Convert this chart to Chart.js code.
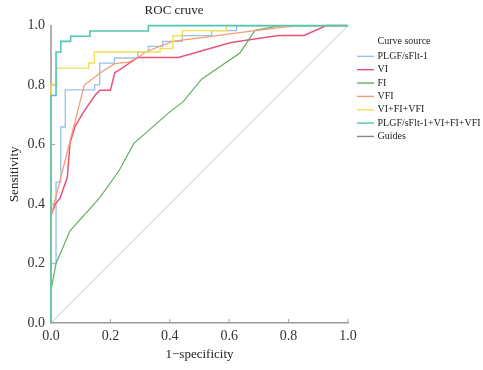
<!DOCTYPE html>
<html>
<head>
<meta charset="utf-8">
<script src="https://cdn.jsdelivr.net/npm/chart.js@4.4.1/dist/chart.umd.min.js"></script>
<style>
  html, body { margin: 0; padding: 0; background: #fff; }
  #wrap { width: 483px; height: 370px; }
</style>
</head>
<body>
<div id="wrap"><canvas id="roc" width="483" height="370"></canvas></div>
<script>
// series (x = 1-specificity, y = sensitivity)
const seriesNames = ["PLGF/sFlt-1", "VI", "FI", "VFI", "VI+FI+VFI", "PLGF/sFlt-1+VI+FI+VFI", "Guides"];

const plgfX = [0, 0, 0.017, 0.017, 0.033, 0.033, 0.048, 0.048, 0.147, 0.147, 0.164, 0.164, 0.214, 0.214, 0.292, 0.292, 0.328, 0.328, 0.376, 0.376, 0.442, 0.442, 0.541, 0.541, 0.625, 0.625, 1];
const plgfY = [0, 0.2, 0.2, 0.474, 0.474, 0.659, 0.659, 0.784, 0.784, 0.801, 0.801, 0.874, 0.874, 0.891, 0.891, 0.911, 0.911, 0.93, 0.93, 0.947, 0.947, 0.966, 0.966, 0.983, 0.983, 1, 1];

const viX = [0, 0, 0.015, 0.03, 0.055, 0.064, 0.081, 0.11, 0.15, 0.165, 0.2, 0.215, 0.232, 0.292, 0.429, 0.603, 0.64, 0.765, 0.852, 0.928, 1];
const viY = [0, 0.362, 0.40, 0.419, 0.49, 0.605, 0.661, 0.71, 0.768, 0.783, 0.783, 0.842, 0.852, 0.893, 0.893, 0.942, 0.948, 0.967, 0.967, 1, 1];

const fiX = [0, 0, 0.017, 0.064, 0.163, 0.229, 0.279, 0.40, 0.446, 0.507, 0.636, 0.659, 0.687, 0.771, 1];
const fiY = [0, 0.11, 0.2, 0.31, 0.42, 0.512, 0.604, 0.71, 0.745, 0.82, 0.908, 0.942, 0.984, 1, 1];

const vfiX = [0, 0, 0.112, 0.176, 0.215, 0.26, 0.29, 0.322, 0.41, 0.693, 0.83, 1];
const vfiY = [0, 0.36, 0.80, 0.848, 0.872, 0.877, 0.891, 0.913, 0.947, 0.984, 1, 1];

const comboX = [0, 0, 0.018, 0.018, 0.127, 0.127, 0.146, 0.146, 0.367, 0.367, 0.41, 0.41, 0.442, 0.442, 0.59, 0.59, 1];
const comboY = [0, 0.803, 0.803, 0.857, 0.857, 0.874, 0.874, 0.911, 0.911, 0.923, 0.923, 0.966, 0.966, 0.983, 0.983, 1, 1];

const allX = [0, 0, 0.017, 0.017, 0.033, 0.033, 0.066, 0.066, 0.131, 0.131, 0.328, 0.328, 1];
const allY = [0, 0.765, 0.765, 0.911, 0.911, 0.947, 0.947, 0.964, 0.964, 0.982, 0.982, 1, 1];

const guideX = [0, 1];
const guideY = [0, 1];

const axisTicks = [0, 0.2, 0.4, 0.6, 0.8, 1.0];

const lineColors = ["#93c2ec", "#ec5379", "#66ad66", "#f99a74", "#efe05a", "#52c6b3", "#b8b8b8"];
const lineWidths = [1.3, 1.5, 1.2, 1.3, 1.4, 1.6, 0.8];

const xs = [plgfX, viX, fiX, vfiX, comboX, allX, guideX];
const ys = [plgfY, viY, fiY, vfiY, comboY, allY, guideY];

const serif = "'Liberation Serif', 'Times New Roman', serif";

const datasets = seriesNames.map((name, i) => ({
  label: name,
  data: xs[i].map((x, k) => ({ x, y: ys[i][k] })),
  borderColor: lineColors[i],
  backgroundColor: lineColors[i],
  borderWidth: lineWidths[i],
  showLine: true,
  pointRadius: 0,
  tension: 0,
  clip: false,
  order: i === 6 ? 10 : 6 - i
}));

// short tick marks pointing into the plot
const innerTicks = {
  id: "innerTicks",
  beforeDatasetsDraw(chart) {
    const ctx = chart.ctx;
    const xs_ = chart.scales.x, ys_ = chart.scales.y;
    const area = chart.chartArea;
    ctx.save();
    ctx.strokeStyle = "#a0a0a0";
    ctx.lineWidth = 1;
    axisTicks.forEach(v => {
      if (v > 0) {
        const px = xs_.getPixelForValue(v);
        ctx.beginPath();
        ctx.moveTo(px, area.bottom);
        ctx.lineTo(px, area.bottom - 4);
        ctx.stroke();
      }
      if (v > 0 && v < 1) {
        const py = ys_.getPixelForValue(v);
        ctx.beginPath();
        ctx.moveTo(area.left, py);
        ctx.lineTo(area.left + 4, py);
        ctx.stroke();
      }
    });
    ctx.restore();
  }
};

// legend on the right with a header
const sideLegend = {
  id: "sideLegend",
  afterDraw(chart) {
    const ctx = chart.ctx;
    const left = 357, textX = 377.5, top = 41, step = 13.35;
    ctx.save();
    ctx.font = "10px " + serif;
    ctx.fillStyle = "#222";
    ctx.textBaseline = "middle";
    ctx.textAlign = "left";
    ctx.fillText("Curve source", textX, top);
    chart.data.datasets.forEach((ds, i) => {
      const y = top + step * (i + 1) + 2;
      ctx.strokeStyle = i === 6 ? "#888" : ds.borderColor;
      ctx.lineWidth = 1.4;
      ctx.beginPath();
      ctx.moveTo(left, y);
      ctx.lineTo(left + 17, y);
      ctx.stroke();
      ctx.fillStyle = "#222";
      ctx.fillText(ds.label, textX, y);
    });
    ctx.restore();
  }
};

new Chart(document.getElementById("roc").getContext("2d"), {
  type: "scatter",
  data: { datasets },
  plugins: [innerTicks, sideLegend],
  options: {
    responsive: false,
    animation: false,
    layout: { padding: { left: 0, right: 135, top: 0, bottom: 0 } },
    plugins: {
      legend: { display: false },
      tooltip: { enabled: false },
      title: {
        display: true,
        text: "ROC cruve",
        color: "#222",
        font: { family: serif, size: 13, weight: "normal" },
        padding: { top: 3, bottom: 7 }
      }
    },
    scales: {
      x: {
        type: "linear",
        min: 0,
        max: 1,
        afterFit: s => { s.height = 47; },
        afterBuildTicks: s => { s.ticks = axisTicks.map(v => ({ value: v })); },
        grid: { display: false, drawTicks: false },
        border: { display: true, color: "#9a9a9a", width: 1.5 },
        ticks: {
          padding: 5,
          color: "#333",
          font: { family: serif, size: 14 },
          maxRotation: 0,
          callback: v => v.toFixed(1)
        },
        title: {
          display: true,
          text: "1\u2212specificity",
          color: "#222",
          font: { family: serif, size: 13 },
          padding: { top: 0, bottom: 8 }
        }
      },
      y: {
        type: "linear",
        min: 0,
        max: 1,
        afterFit: s => { s.width = 51; },
        afterBuildTicks: s => { s.ticks = axisTicks.map(v => ({ value: v })); },
        grid: { display: false, drawTicks: false },
        border: { display: true, color: "#b0b0b0", width: 2 },
        ticks: {
          padding: 6,
          color: "#333",
          font: { family: serif, size: 14 },
          callback: v => v.toFixed(1)
        },
        title: {
          display: true,
          text: "Sensitivity",
          color: "#222",
          font: { family: serif, size: 13 },
          padding: { top: 7, bottom: 0 }
        }
      }
    }
  }
});
</script>
</body>
</html>
